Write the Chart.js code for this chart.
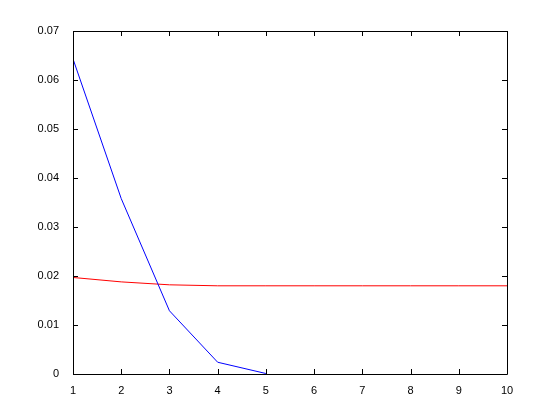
<!DOCTYPE html>
<html>
<head>
<meta charset="utf-8">
<script src="https://cdn.jsdelivr.net/npm/chart.js@4"></script>
<style>
  body { margin: 0; background: #fff; }
  canvas { display: block; }
</style>
</head>
<body>
<canvas id="myCanvas" width="560" height="420"></canvas>
<script>
// dati
let xValues = [1, 2, 3, 4, 5, 6, 7, 8, 9, 10];
let blueValues = [0.0643, 0.0358, 0.0129, 0.0024, 0.0001];
let redValues = [0.0197, 0.0188, 0.0182, 0.0180, 0.0180, 0.0180, 0.0180, 0.0180, 0.0180, 0.0180];

let xTicks = [1, 2, 3, 4, 5, 6, 7, 8, 9, 10];
let yTicks = [0, 0.01, 0.02, 0.03, 0.04, 0.05, 0.06, 0.07];

function toPoints(ys) {
    return ys.map((y, i) => ({ x: xValues[i], y: y }));
}

// box e tacche verso l'interno, stile matlab
const boxPlugin = {
    id: 'box',
    afterDraw(chart) {
        const ctx = chart.ctx;
        const a = chart.chartArea;
        const xs = chart.scales.x;
        const ys = chart.scales.y;
        const len = 5;
        ctx.save();
        ctx.strokeStyle = '#000';
        ctx.lineWidth = 1;
        ctx.beginPath();
        ctx.rect(Math.round(a.left) + 0.5, Math.round(a.top) + 0.5,
                 Math.round(a.right - a.left), Math.round(a.bottom - a.top));
        xTicks.forEach(v => {
            const px = Math.round(xs.getPixelForValue(v)) + 0.5;
            ctx.moveTo(px, a.bottom);
            ctx.lineTo(px, a.bottom - len);
            ctx.moveTo(px, a.top);
            ctx.lineTo(px, a.top + len);
        });
        yTicks.forEach(v => {
            const py = Math.round(ys.getPixelForValue(v)) + 0.5;
            ctx.moveTo(a.left, py);
            ctx.lineTo(a.left + len, py);
            ctx.moveTo(a.right, py);
            ctx.lineTo(a.right - len, py);
        });
        ctx.stroke();
        ctx.restore();
    }
};

Chart.defaults.font.family = '"Liberation Sans", Arial, sans-serif';
Chart.defaults.font.size = 11;
Chart.defaults.color = '#000';

let chart = new Chart(document.getElementById('myCanvas').getContext('2d'), {
    type: 'line',
    data: {
        datasets: [{
            data: toPoints(blueValues),
            borderColor: '#0000ff',
            borderWidth: 1,
            pointRadius: 0,
            tension: 0
        }, {
            data: toPoints(redValues),
            borderColor: '#ff0000',
            borderWidth: 1,
            pointRadius: 0,
            tension: 0
        }]
    },
    options: {
        responsive: false,
        animation: false,
        layout: {
            padding: { left: 0, top: 31, right: 53, bottom: 0 }
        },
        plugins: {
            legend: { display: false },
            tooltip: { enabled: false }
        },
        scales: {
            x: {
                type: 'linear',
                min: 1,
                max: 10,
                grid: { display: false },
                border: { display: false },
                afterFit(scale) { scale.height = 46; },
                afterBuildTicks(scale) { scale.ticks = xTicks.map(v => ({ value: v })); },
                ticks: { padding: 2, maxRotation: 0 }
            },
            y: {
                min: 0,
                max: 0.07,
                grid: { display: false },
                border: { display: false },
                afterFit(scale) { scale.width = 73; },
                afterBuildTicks(scale) { scale.ticks = yTicks.map(v => ({ value: v })); },
                ticks: {
                    padding: 6,
                    callback: v => String(+v.toFixed(2))
                }
            }
        }
    },
    plugins: [boxPlugin]
});
</script>
</body>
</html>
